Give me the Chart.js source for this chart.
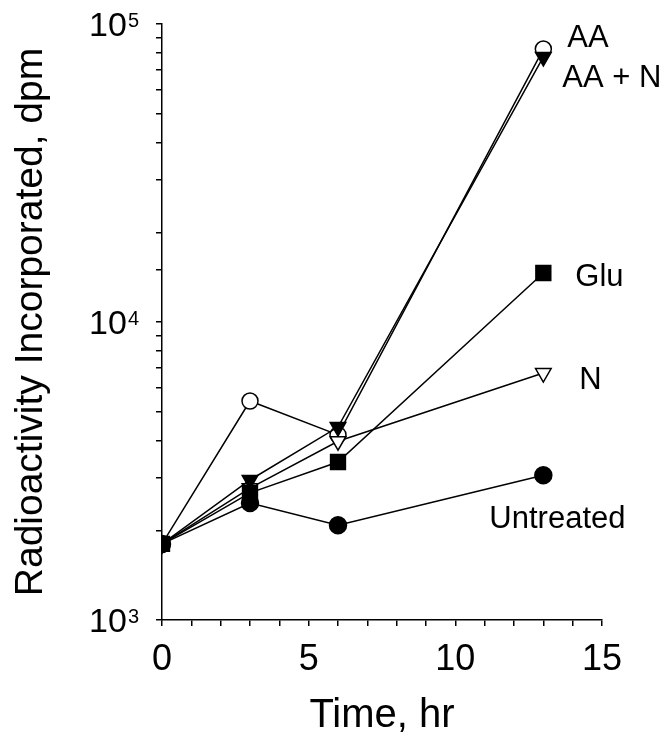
<!DOCTYPE html>
<html>
<head>
<meta charset="utf-8">
<script src="https://cdn.jsdelivr.net/npm/chart.js@4.4.1/dist/chart.umd.min.js"></script>
<style>
  html, body { margin: 0; padding: 0; background: #ffffff; }
  canvas { display: block; }
</style>
</head>
<body>
<canvas id="c" width="664" height="755"></canvas>
<script>
// ---- data ----
const timeHr = [0, 3, 6, 13];
const seriesNames = ["Untreated", "AA + N", "Glu", "N", "AA"];
const untreated = [1800, 2470, 2080, 3060];
const aaPlusN   = [1800, 2950, 4440, 77500];
const glu       = [1800, 2670, 3390, 14600];
const nOnly     = [1800, 2770, 3980, 6740];
const aa        = [1800, 5430, 4180, 82400];
const xTickValues = [0, 5, 10, 15];
const yTickPowers = [3, 4, 5];

const FONT = "'Liberation Sans', Arial, Helvetica, sans-serif";

function pts(vals) { return timeHr.map((t, i) => ({x: t, y: vals[i]})); }

function mk(label, vals, style, fill, radius, rotation) {
  return {
    label: label,
    data: pts(vals),
    borderColor: '#000',
    borderWidth: 1.5,
    backgroundColor: fill,
    pointStyle: style,
    pointRadius: radius,
    pointRotation: rotation || 0,
    pointBackgroundColor: fill,
    pointBorderColor: '#000',
    pointBorderWidth: 1.5,
    tension: 0,
    fill: false
  };
}

const datasets = [
  mk(seriesNames[0], untreated, 'circle', '#000', 8.5),
  mk(seriesNames[1], aaPlusN, 'triangle', '#000', 9, 180),
  mk(seriesNames[2], glu, 'rect', '#000', 10.5),
  mk(seriesNames[3], nOnly, 'triangle', '#fff', 9, 180),
  mk(seriesNames[4], aa, 'circle', '#fff', 8)
];

// label offsets (px) from each series' last point
const labelOffsets = {
  "Untreated": [-54, 44],
  "AA + N": [19, 21],
  "Glu": [32, 4],
  "N": [36, 7],
  "AA": [24, -11]
};

const seriesLabels = {
  id: 'seriesLabels',
  afterDatasetsDraw(chart) {
    const ctx = chart.ctx;
    const xs = chart.scales.x, ys = chart.scales.y;
    ctx.save();
    ctx.fillStyle = '#000';
    ctx.font = '31px ' + FONT;
    ctx.textAlign = 'left';
    ctx.textBaseline = 'middle';
    chart.data.datasets.forEach(ds => {
      const last = ds.data[ds.data.length - 1];
      const off = labelOffsets[ds.label];
      const px = xs.getPixelForValue(last.x);
      const py = ys.getPixelForValue(last.y);
      ctx.fillText(ds.label, px + off[0], py + off[1]);
    });
    ctx.restore();
  }
};

// power-of-ten tick labels with a raised exponent
const powerLabels = {
  id: 'powerLabels',
  afterDraw(chart) {
    const ctx = chart.ctx;
    const ys = chart.scales.y;
    const rightEdge = ys.right - 23;
    ctx.save();
    ctx.fillStyle = '#000';
    ctx.textAlign = 'left';
    ctx.textBaseline = 'alphabetic';
    yTickPowers.forEach(p => {
      const y = ys.getPixelForValue(Math.pow(10, p));
      ctx.font = '20px ' + FONT;
      const sup = String(p);
      const supW = ctx.measureText(sup).width;
      ctx.font = '34px ' + FONT;
      const base = '10';
      const baseW = ctx.measureText(base).width;
      const xSup = rightEdge - supW;
      const xBase = xSup - 1 - baseW;
      ctx.fillText(base, xBase, y + 12);
      ctx.font = '20px ' + FONT;
      ctx.fillText(sup, xSup, y + 2.5);
    });
    ctx.restore();
  }
};

new Chart(document.getElementById('c'), {
  type: 'line',
  data: { datasets: datasets },
  plugins: [seriesLabels, powerLabels],
  options: {
    responsive: false,
    animation: false,
    layout: { padding: { top: 24, right: 62, left: 0, bottom: 0 } },
    plugins: { legend: { display: false }, tooltip: { enabled: false } },
    scales: {
      x: {
        type: 'linear',
        min: 0, max: 15,
        afterFit(scale) { scale.height = 135; },
        border: { display: true, color: '#000', width: 1.5 },
        grid: { display: true, drawOnChartArea: false, drawTicks: true, tickLength: 6, color: '#000', lineWidth: 1.5 },
        ticks: {
          stepSize: 1,
          autoSkip: false,
          maxRotation: 0,
          padding: 12,
          color: '#000',
          font: { family: FONT, size: 36 },
          callback: (v) => xTickValues.includes(v) ? String(v) : ''
        },
        title: {
          display: true,
          text: 'Time, hr',
          color: '#000',
          font: { family: FONT, size: 40 },
          padding: { top: 0, bottom: 15 }
        }
      },
      y: {
        type: 'logarithmic',
        min: 1000, max: 100000,
        afterFit(scale) { scale.width = 162; },
        border: { display: true, color: '#000', width: 1.5 },
        grid: { display: true, drawOnChartArea: false, drawTicks: true, tickLength: 6, color: '#000', lineWidth: 1.5 },
        ticks: {
          display: false,
          autoSkip: false
        },
        title: {
          display: true,
          text: 'Radioactivity Incorporated, dpm',
          color: '#000',
          font: { family: FONT, size: 39 },
          padding: { top: 8, bottom: 0 }
        }
      }
    }
  }
});
</script>
</body>
</html>
